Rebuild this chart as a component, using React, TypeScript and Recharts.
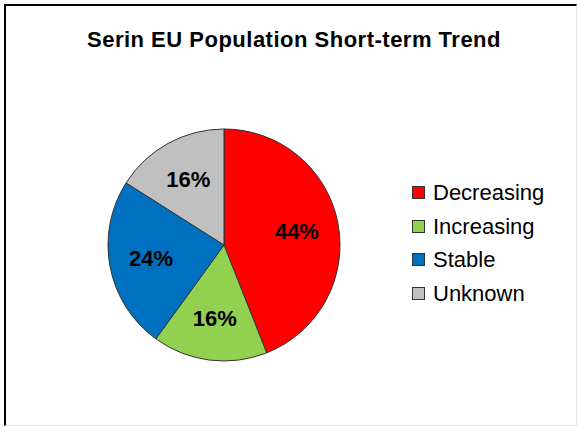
import { PieChart, Pie, Cell, Legend } from "recharts";

const categories = ["Decreasing", "Increasing", "Stable", "Unknown"];
const shares = [44, 16, 24, 16];
const colors = ["#FF0000", "#92D050", "#0070C0", "#C0C0C0"];

const title = "Serin EU Population Short-term Trend";

const data = categories.map((name, i) => ({ name, value: shares[i], color: colors[i] }));

const FONT = "'Liberation Sans', Arial, sans-serif";
const RADIAN = Math.PI / 180;

// percentage labels inside the slices
function renderLabel(props: any) {
  const { cx, cy, midAngle, outerRadius, percent } = props;
  const r = outerRadius * 0.64;
  const x = cx + r * Math.cos(-midAngle * RADIAN);
  const y = cy + r * Math.sin(-midAngle * RADIAN);
  return (
    <text
      x={x}
      y={y}
      textAnchor="middle"
      dominantBaseline="central"
      fill="#000"
      fontFamily={FONT}
      fontWeight="bold"
      fontSize={22}
    >
      {`${Math.round(percent * 100)}%`}
    </text>
  );
}

function LegendContent() {
  return (
    <div style={{ fontFamily: FONT, fontSize: 22, color: "#000" }}>
      {data.map((d) => (
        <div
          key={d.name}
          style={{ display: "flex", alignItems: "center", height: 33.5, lineHeight: "33.5px" }}
        >
          <span
            style={{
              display: "inline-block",
              width: 11,
              height: 11,
              background: d.color,
              border: "1px solid #333",
              marginRight: 8,
            }}
          />
          <span>{d.name}</span>
        </div>
      ))}
    </div>
  );
}

export default function App() {
  return (
    <div
      style={{
        position: "absolute",
        left: 0,
        top: 0,
        width: 577,
        height: 426,
        background: "#fff",
        overflow: "hidden",
      }}
    >
      <div
        style={{
          position: "absolute",
          left: 4,
          top: 4,
          width: 570,
          height: 419,
          borderTop: "2px solid #000",
          borderLeft: "2px solid #000",
          borderRight: "1px solid #e4e4e4",
          borderBottom: "1px solid #e4e4e4",
        }}
      />
      <div
        style={{
          position: "absolute",
          left: 0,
          top: 27,
          width: 588,
          textAlign: "center",
          fontFamily: FONT,
          fontWeight: "bold",
          fontSize: 22,
          letterSpacing: 0.5,
          color: "#000",
        }}
      >
        {title}
      </div>
      <PieChart
        width={577}
        height={426}
        margin={{ top: 0, right: 0, bottom: 0, left: 0 }}
        style={{ position: "absolute", left: 0, top: 0 }}
      >
        <Pie
          data={data}
          dataKey="value"
          nameKey="name"
          cx={224}
          cy={245}
          outerRadius={116}
          startAngle={90}
          endAngle={-270}
          stroke="#333"
          strokeWidth={1}
          label={renderLabel}
          labelLine={false}
          isAnimationActive={false}
        >
          {data.map((d) => (
            <Cell key={d.name} fill={d.color} />
          ))}
        </Pie>
        <Legend
          layout="vertical"
          content={<LegendContent />}
          wrapperStyle={{ left: 412, top: 176, width: 160 }}
        />
      </PieChart>
    </div>
  );
}
